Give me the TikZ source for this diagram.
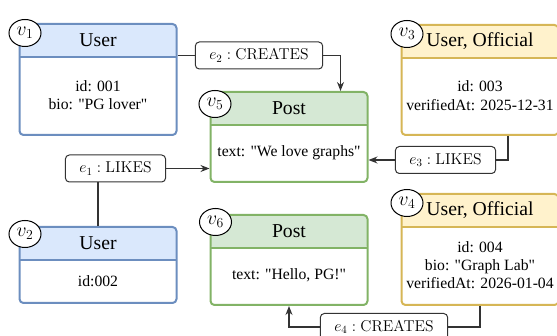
\RequirePackage{fix-cm}
\documentclass[tikz,border=0pt]{standalone}
\usepackage[no-math]{fontspec}
\setmainfont{Liberation Serif}[Ligatures=TeXOff]
\usetikzlibrary{positioning,shapes.geometric,arrows.meta}
\definecolor{bluefill}{HTML}{DAE8FC}
\definecolor{blueline}{HTML}{6C8EBF}
\definecolor{greenfill}{HTML}{D5E8D4}
\definecolor{greenline}{HTML}{82B366}
\definecolor{yellowfill}{HTML}{FFF2CC}
\definecolor{yellowline}{HTML}{D6B656}
\definecolor{edgeline}{HTML}{333333}
\newcommand{\headfont}{\fontsize{19.7}{24}\selectfont}
\newcommand{\bodyfont}{\fontsize{15.7}{18.4}\selectfont}
\tikzset{
	entity/.style={draw=#1line, line width=2pt, rounded corners=4pt, fill=white, minimum width=157pt, inner sep=0pt,
		path picture={\fill[#1fill] ([yshift=5pt]path picture bounding box.north west) rectangle ([yshift=-33pt]path picture bounding box.north east);
			\draw[#1line, line width=2pt] ([yshift=-33pt]path picture bounding box.north west) -- ([yshift=-33pt]path picture bounding box.north east);}},
	headtxt/.style={minimum height=33pt, inner sep=0pt, font=\headfont},
	bodytxt/.style={align=center, inner sep=0pt, font=\bodyfont},
	vlabel/.style={ellipse, draw, fill=white, line width=1pt, minimum width=32pt, minimum height=27pt, inner sep=0pt, font=\headfont},
	elabel/.style={draw=edgeline, rounded corners=4pt, fill=white, line width=1pt, minimum height=27pt, inner xsep=14pt, inner ysep=0pt, font=\bodyfont},
	conn/.style={draw=edgeline, line width=1.3pt},
	arr/.style={conn, -{Stealth[length=9pt,width=7pt]}}
}
\begin{document}
\begin{tikzpicture}[x=1pt,y=-1pt]
	\useasboundingbox (0,0) rectangle (557,336);
	\node[entity=blue, minimum height=111pt] (v1) at (98,79.5) {};
	\node[headtxt, below=0pt of v1.north] (v1h) {User};
	\node[bodytxt, minimum height=78pt, below=33pt of v1.north] (v1b) {id: 001\\bio: "PG lover"};
	\node[entity=blue, minimum height=76pt] (v2) at (98,265) {};
	\node[headtxt, below=0pt of v2.north] (v2h) {User};
	\node[bodytxt, minimum height=43pt, below=33pt of v2.north] (v2b) {id:002};
	\node[entity=green, minimum height=90pt] (v5) at (289,137) {};
	\node[headtxt, below=0pt of v5.north] (v5h) {Post};
	\node[bodytxt, minimum height=57pt, below=33pt of v5.north] (v5b) {text: "We love graphs"};
	\node[entity=green, minimum height=90pt] (v6) at (289,260) {};
	\node[headtxt, below=0pt of v6.north] (v6h) {Post};
	\node[bodytxt, minimum height=57pt, below=33pt of v6.north] (v6b) {text: "Hello, PG!"};
	\node[entity=yellow, minimum height=110pt] (v3) at (480,80) {};
	\node[headtxt, below=0pt of v3.north] (v3h) {User, Official};
	\node[bodytxt, minimum height=77pt, below=33pt of v3.north] (v3b) {id: 003\\verifiedAt: 2025-12-31};
	\node[entity=yellow, minimum height=111pt] (v4) at (480,249.5) {};
	\node[headtxt, below=0pt of v4.north] (v4h) {User, Official};
	\node[bodytxt, minimum height=78pt, below=33pt of v4.north] (v4b) {id: 004\\bio: "Graph Lab"\\verifiedAt: 2026-01-04};

	\node[vlabel] (c1) at (25,33) {$v_1$};
	\node[vlabel] (c2) at (25,234) {$v_2$};
	\node[vlabel] (c5) at (215,104) {$v_5$};
	\node[vlabel] (c6) at (215.5,222) {$v_6$};
	\node[vlabel] (c3) at (407,34) {$v_3$};
	\node[vlabel] (c4) at (407,203) {$v_4$};

	\node[elabel] (e1) at (115.5,168.5) {$e_1 : \mathrm{LIKES}$};
	\node[elabel] (e2) at (259,55.5) {$e_2 : \mathrm{CREATES}$};
	\node[elabel] (e3) at (445.5,160) {$e_3 : \mathrm{LIKES}$};
	\node[elabel] (e4) at (384,327) {$e_4 : \mathrm{CREATES}$};

	\draw[conn] (e1.south -| v2.north) -- (v2.north);
	\draw[arr] (e1.east) -- (e1.east -| v5.west);
	\draw[conn] (e2.west -| v1.east) -- (e2.west);
	\draw[arr] (e2.east) -| ([xshift=-28pt]v5.north east);
	\draw[conn] ([xshift=28pt]v3.south) |- (e3.east);
	\draw[arr] (e3.west) -- (e3.west -| v5.east);
	\draw[conn] (v4.south) |- (e4.east);
	\draw[arr] (e4.west) -| (v6.south);
\end{tikzpicture}
\end{document}
